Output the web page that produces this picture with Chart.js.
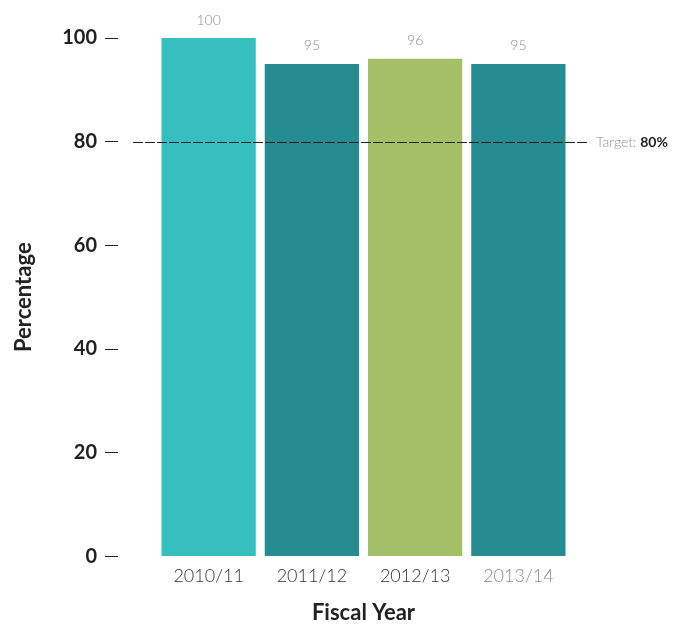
<!DOCTYPE html>
<html>
<head>
<meta charset="utf-8">
<script src="https://cdn.jsdelivr.net/npm/chart.js@4/dist/chart.umd.min.js"></script>
<style>
  html, body { margin: 0; padding: 0; background: #ffffff; }
  #wrap { width: 690px; height: 624px; }
</style>
</head>
<body>
<div id="wrap"><canvas id="chart" width="690" height="624"></canvas></div>
<script>
// Fiscal years and the share (%) achieved in each
const fiscalYears = ['2010/11', '2011/12', '2012/13', '2013/14'];
const percentages = [100, 95, 96, 95];
const barColors = ['#36bfbe', '#268c92', '#a3c068', '#268c92'];
const yTicks = [0, 20, 40, 60, 80, 100];
const targetValue = 80;

const FONT = 'Lato, "Open Sans", sans-serif';

// Dashed target line with its caption, plus value labels above the bars
const annotate = {
  id: 'annotate',
  afterDatasetsDraw(chart) {
    const { ctx, chartArea } = chart;
    const y = chart.scales.y;
    const meta = chart.getDatasetMeta(0);

    ctx.save();
    ctx.textAlign = 'center';
    ctx.textBaseline = 'bottom';
    ctx.fillStyle = '#8e8e8e';
    ctx.font = '300 14px ' + FONT;
    meta.data.forEach((bar, i) => {
      ctx.fillText(String(percentages[i]), bar.x, bar.y - 11);
    });

    const ty = Math.round(y.getPixelForValue(targetValue)) + 0.5;
    ctx.strokeStyle = '#222';
    ctx.lineWidth = 1;
    ctx.setLineDash([10, 2]);
    ctx.beginPath();
    ctx.moveTo(chartArea.left - 24, ty);
    ctx.lineTo(chartArea.right + 18, ty);
    ctx.stroke();
    ctx.setLineDash([]);

    ctx.textAlign = 'left';
    ctx.textBaseline = 'middle';
    const lx = chartArea.right + 26;
    ctx.font = '300 14px ' + FONT;
    ctx.fillStyle = '#8e8e8e';
    const lead = 'Target: ';
    ctx.fillText(lead, lx, ty);
    const w = ctx.measureText(lead).width;
    ctx.font = 'bold 14px ' + FONT;
    ctx.fillStyle = '#222';
    ctx.fillText(targetValue + '%', lx + w, ty);
    ctx.restore();
  }
};

new Chart(document.getElementById('chart'), {
  type: 'bar',
  data: {
    labels: fiscalYears,
    datasets: [{
      data: percentages,
      backgroundColor: barColors,
      borderWidth: 0,
      barPercentage: 0.913,
      categoryPercentage: 1.0
    }]
  },
  options: {
    responsive: false,
    animation: false,
    devicePixelRatio: 1,
    layout: { padding: { top: 38, right: 120, left: 0, bottom: 0 } },
    plugins: {
      legend: { display: false },
      tooltip: { enabled: false }
    },
    scales: {
      x: {
        grid: { display: false, drawTicks: false },
        border: { display: false },
        ticks: {
          padding: 9,
          color: (c) => (c.index === 3 ? '#8a8a8a' : '#333'),
          font: { family: FONT, size: 18, weight: '300' }
        },
        title: {
          display: true,
          text: 'Fiscal Year',
          color: '#222',
          font: { family: FONT, size: 22, weight: 'bold', lineHeight: 1.0 },
          padding: { top: 6, bottom: 0 }
        }
      },
      y: {
        min: 0,
        max: 100,
        afterBuildTicks: (scale) => { scale.ticks = yTicks.map(v => ({ value: v })); },
        afterFit: (scale) => { scale.width = 157; },
        grid: {
          drawOnChartArea: false,
          drawTicks: true,
          tickLength: 52,
          tickColor: '#222',
          tickWidth: 1,
          tickBorderDash: [13, 100]
        },
        border: { display: false },
        ticks: {
          padding: 8,
          color: '#222',
          font: { family: FONT, size: 20, weight: 'bold' }
        },
        title: {
          display: true,
          text: 'Percentage',
          color: '#222',
          font: { family: FONT, size: 22, weight: 'bold', lineHeight: 1.0 },
          padding: { top: 13, bottom: 0 }
        }
      }
    }
  },
  plugins: [annotate]
});
</script>
</body>
</html>
